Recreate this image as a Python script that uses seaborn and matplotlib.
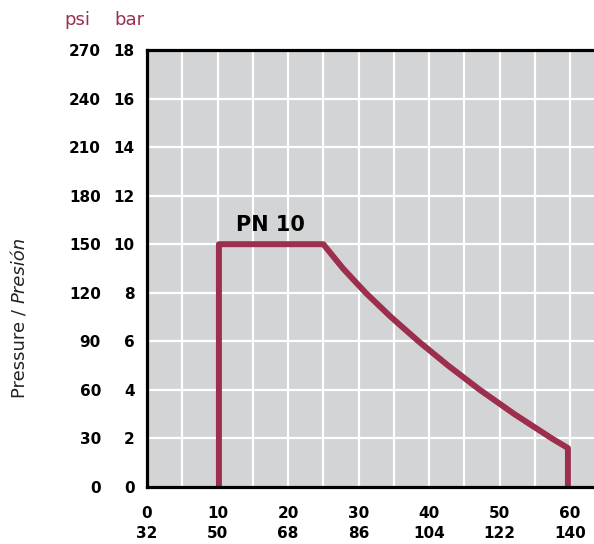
import matplotlib
matplotlib.use("Agg")
import matplotlib.pyplot as plt
import numpy as np
import pandas as pd
import seaborn as sns

# temperature (°C) and max pressure (bar)
temp_c = [10.2, 10.2, 25, 27.8, 31.0, 34.6, 38.5, 42.7, 47.2, 52.1, 57.4, 59.7, 59.7]
pressure_bar = [0, 10, 10, 9, 8, 7, 6, 5, 4, 3, 2, 1.6, 0]

x_ticks_c = [0, 10, 20, 30, 40, 50, 60]
x_ticks_f = [32, 50, 68, 86, 104, 122, 140]
y_ticks_bar = [0, 2, 4, 6, 8, 10, 12, 14, 16, 18]
y_ticks_psi = [0, 30, 60, 90, 120, 150, 180, 210, 240, 270]

line_color = "#9B2F4D"
bg_color = "#D3D4D6"

sns.set_style("white", {"axes.facecolor": bg_color})
plt.rcParams["font.family"] = ["DejaVu Sans"]
plt.rcParams["text.color"] = "black"
plt.rcParams["xtick.color"] = "black"
plt.rcParams["ytick.color"] = "black"

df = pd.DataFrame({"temp": temp_c, "pressure": pressure_bar})

fig = plt.figure(figsize=(5.94, 5.44), dpi=100)
ax = fig.add_axes([0.2475, 0.105, 0.7525, 0.803])

sns.lineplot(data=df, x="temp", y="pressure", sort=False, estimator=None,
             color=line_color, linewidth=4.3, ax=ax)
ax.lines[0].set_solid_joinstyle("round")
ax.lines[0].set_solid_capstyle("butt")

ax.set_xlim(0, 63.4)
ax.set_ylim(0, 18)

# grid every 5 °C and every 2 bar
ax.set_xticks(np.arange(0, 65, 5), minor=True)
ax.set_xticks(x_ticks_c)
ax.set_yticks(y_ticks_bar)
ax.grid(True, which="both", color="white", linewidth=1.6)
ax.set_axisbelow(True)

ax.set_xticklabels([f"{c}\n{f}" for c, f in zip(x_ticks_c, x_ticks_f)],
                   fontweight="bold", fontsize=11, linespacing=1.35)
ax.set_yticklabels([str(b) for b in y_ticks_bar], fontweight="bold", fontsize=11)
ax.tick_params(axis="x", which="both", length=0, pad=14, colors="black")
ax.tick_params(axis="y", length=0, pad=9, colors="black")
ax.set_xlabel("")
ax.set_ylabel("")

for side in ["top", "left", "bottom"]:
    ax.spines[side].set_color("black")
    ax.spines[side].set_linewidth(2.3)
ax.spines["right"].set_visible(False)

# psi column
sec = ax.secondary_yaxis(-0.103, functions=(lambda b: b * 15, lambda p: p / 15))
sec.set_yticks(y_ticks_psi)
sec.set_yticklabels([str(p) for p in y_ticks_psi], fontweight="bold", fontsize=11)
sec.tick_params(length=0, pad=0, colors="black")
sec.spines["left"].set_visible(False)

# unit headers
fig.text(77 / 594, 1 - 20 / 544, "psi", color=line_color, fontsize=13,
         ha="center", va="center")
fig.text(129 / 594, 1 - 20 / 544, "bar", color=line_color, fontsize=13,
         ha="center", va="center")

ax.text(17.5, 10.8, "PN 10", fontsize=15, fontweight="bold",
        ha="center", va="center", color="black")

# y label with italic Spanish part
fig.canvas.draw()
renderer = fig.canvas.get_renderer()
t1 = fig.text(20 / 594, 1 - 398 / 544, "Pressure / ", rotation=90,
              fontsize=13, ha="center", va="bottom", color="#222222")
h = t1.get_window_extent(renderer).height / fig.bbox.height
fig.text(20 / 594, 1 - 398 / 544 + h, "Presión", rotation=90,
         fontsize=13, style="italic", ha="center", va="bottom", color="#222222")

fig.savefig("out.png", dpi=100, facecolor="white")
